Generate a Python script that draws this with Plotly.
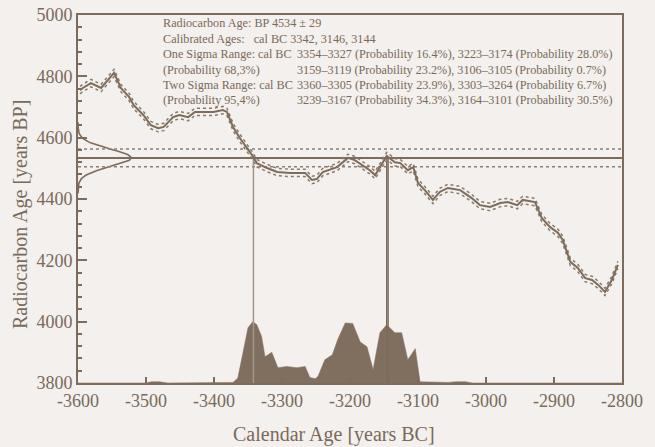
import plotly.graph_objects as go
import math

# ---------------- data ----------------
bp_age = 4534
bp_err = 29
calibrated_ages = [-3342, -3146, -3144]

# calibration curve (calendar year, radiocarbon age BP)
curve_years = [-3597, -3593, -3581, -3566, -3547, -3537, -3525, -3518, -3504, -3493,
               -3482, -3474, -3460, -3451, -3438, -3428, -3401, -3387, -3381, -3372,
               -3362, -3351, -3344, -3337, -3322, -3307, -3288, -3266, -3256, -3249,
               -3240, -3219, -3203, -3193, -3182, -3171, -3163, -3156, -3146, -3134,
               -3126, -3115, -3107, -3100, -3090, -3078, -3068, -3056, -3038, -3021,
               -3009, -2994, -2979, -2968, -2954, -2946, -2928, -2918, -2906, -2894,
               -2887, -2876, -2865, -2854, -2844, -2835, -2825, -2815, -2806]
curve_bp = [4755, 4762, 4778, 4762, 4811, 4762, 4733, 4706, 4674, 4641,
            4631, 4635, 4667, 4674, 4667, 4684, 4684, 4690, 4684, 4635,
            4599, 4566, 4543, 4517, 4501, 4488, 4485, 4485, 4462, 4465,
            4488, 4504, 4534, 4527, 4511, 4494, 4478, 4504, 4540, 4520,
            4517, 4494, 4504, 4452, 4429, 4397, 4423, 4436, 4429, 4403,
            4380, 4374, 4387, 4390, 4380, 4397, 4390, 4338, 4309, 4289,
            4266, 4195, 4175, 4142, 4136, 4120, 4097, 4136, 4185]
curve_sigma = 12

# calibrated probability distribution (relative)
prob_years = [-3600, -3500, -3492, -3480, -3468, -3380, -3372, -3365, -3357, -3350,
              -3343, -3337, -3330, -3325, -3315, -3306, -3293, -3278, -3266, -3259,
              -3251, -3247, -3237, -3226, -3218, -3207, -3196, -3185, -3175, -3166,
              -3156, -3146, -3134, -3124, -3115, -3104, -3097, -3078, -3055, -3045,
              -3030, -3020, -2800]
prob_rel = [0.0, 0.0, 0.02, 0.02, 0.0, 0.0, 0.01, 0.08, 0.54, 0.90,
            1.00, 0.95, 0.76, 0.43, 0.50, 0.25, 0.27, 0.25, 0.27, 0.09,
            0.07, 0.11, 0.38, 0.46, 0.71, 0.98, 0.97, 0.67, 0.59, 0.22,
            0.82, 0.95, 0.82, 0.82, 0.38, 0.56, 0.02, 0.01, 0.01, 0.02,
            0.02, 0.0, 0.0]

x_ticks = [-3600, -3500, -3400, -3300, -3200, -3100, -3000, -2900, -2800]
x_tick_labels = ["-3600", "-3500", "-3400", "-3300", "-3200", "-3100", "-3000", "-2900", "-2800"]
y_ticks = [3800, 4000, 4200, 4400, 4600, 4800, 5000]
y_tick_labels = ["3800", "4000", "4200", "4400", "4600", "4800", "5000"]

x_title = "Calendar Age [years BC]"
y_title = "Radiocarbon Age [years BP]"

info_lines_left = [
    "Radiocarbon Age: BP 4534 ± 29",
    "Calibrated Ages:   cal BC 3342, 3146, 3144",
    "One Sigma Range: cal BC",
    "(Probability 68,3%)",
    "Two Sigma Range: cal BC",
    "(Probability 95,4%)",
]
info_lines_right = [
    None,
    None,
    "3354–3327 (Probability 16.4%), 3223–3174 (Probability 28.0%)",
    "3159–3119 (Probability 23.2%), 3106–3105 (Probability 0.7%)",
    "3360–3305 (Probability 23.9%), 3303–3264 (Probability 6.7%)",
    "3239–3167 (Probability 34.3%), 3164–3101 (Probability 30.5%)",
]

# ---------------- style ----------------
BG = "#f3f0ed"
INK = "#7d6c5c"
TXT = "#7a6a5a"
FONT = "Liberation Serif, Times New Roman, serif"
X0, X1 = -3600, -2800
Y0, Y1 = 3800, 5000
PROB_HEIGHT = 200      # data units for peak of distribution
GAUSS_WIDTH = 78       # data units for peak of measurement gaussian

fig = go.Figure()

# measurement gaussian on the y axis
g_y = [bp_age + bp_err * (k / 10.0) for k in range(-40, 41)]
g_x = [X0 + GAUSS_WIDTH * math.exp(-((v - bp_age) ** 2) / (2 * bp_err ** 2)) for v in g_y]
fig.add_trace(go.Scatter(x=g_x, y=g_y, mode="lines", line=dict(color=INK, width=1.6),
                         hoverinfo="skip", showlegend=False))

# horizontal lines: age and +-sigma
fig.add_trace(go.Scatter(x=[X0, X1], y=[bp_age, bp_age], mode="lines",
                         line=dict(color=INK, width=2), showlegend=False))
for s in (-1, 1):
    fig.add_trace(go.Scatter(x=[X0, X1], y=[bp_age + s * bp_err] * 2, mode="lines",
                             line=dict(color="#8e7f70", width=1.4, dash="dot"), showlegend=False))

# probability distribution
px = [prob_years[0]] + prob_years + [prob_years[-1]]
py = [Y0] + [Y0 + p * PROB_HEIGHT for p in prob_rel] + [Y0]
fig.add_trace(go.Scatter(x=px, y=py, mode="lines", fill="toself", fillcolor="#806f5e",
                         line=dict(color="#806f5e", width=0.5), showlegend=False))

# vertical lines at calibrated ages
for i, a in enumerate(calibrated_ages):
    fig.add_trace(go.Scatter(x=[a, a], y=[Y0, bp_age], mode="lines",
                             line=dict(color=("#a3968a" if i == 0 else INK), width=1.5),
                             showlegend=False))

# calibration curve with envelope
for s in (-1, 1):
    fig.add_trace(go.Scatter(x=curve_years, y=[v + s * curve_sigma for v in curve_bp], mode="lines",
                             line=dict(color="#8a7a6a", width=1.5, dash="dot"), showlegend=False))
fig.add_trace(go.Scatter(x=curve_years, y=curve_bp, mode="lines",
                         line=dict(color=INK, width=2), showlegend=False))

# info text
line_y = [0.9774, 0.9361, 0.894, 0.8519, 0.8098, 0.7677]
for i, t in enumerate(info_lines_left):
    fig.add_annotation(x=0.153, y=line_y[i], xref="paper", yref="paper", text=t,
                       showarrow=False, xanchor="left", yanchor="middle",
                       font=dict(family=FONT, size=12.2, color=TXT))
    r = info_lines_right[i]
    if r:
        fig.add_annotation(x=0.399, y=line_y[i], xref="paper", yref="paper", text=r,
                           showarrow=False, xanchor="left", yanchor="middle",
                           font=dict(family=FONT, size=12.2, color=TXT))

# axis titles
fig.add_annotation(x=0.4706, y=-0.1413, xref="paper", yref="paper", text=x_title,
                   showarrow=False, xanchor="center", yanchor="middle",
                   font=dict(family=FONT, size=20, color=TXT))
fig.add_annotation(x=-0.1066, y=0.4565, xref="paper", yref="paper", text=y_title,
                   showarrow=False, xanchor="center", yanchor="middle", textangle=-90,
                   font=dict(family=FONT, size=20, color=TXT))

fig.update_layout(
    width=655, height=447,
    margin=dict(l=78, r=33, t=15, b=64),
    paper_bgcolor=BG, plot_bgcolor=BG,
    font=dict(family=FONT, color=TXT),
    showlegend=False,
    xaxis=dict(range=[X0, X1], tickmode="array", tickvals=x_ticks, ticktext=x_tick_labels,
               ticks="inside", ticklen=6, tickwidth=1.5, tickcolor=INK,
               showline=True, linecolor=INK, linewidth=2, mirror=True,
               showgrid=False, zeroline=False, automargin=False,
               tickfont=dict(family=FONT, size=18, color=TXT)),
    yaxis=dict(range=[Y0, Y1], tickmode="array", tickvals=y_ticks, ticktext=y_tick_labels,
               ticks="inside", ticklen=9, tickwidth=1.5, tickcolor=INK,
               minor=dict(tickmode="linear", tick0=3800, dtick=40, ticks="inside",
                          ticklen=4, tickwidth=1.5, tickcolor=INK),
               showline=True, linecolor=INK, linewidth=2, mirror=True,
               showgrid=False, zeroline=False, automargin=False,
               tickfont=dict(family=FONT, size=18, color=TXT)),
)

fig.write_html("out.html", config={"displayModeBar": False},
               post_script="document.body.style.margin='0';document.body.style.background='%s';" % BG)
